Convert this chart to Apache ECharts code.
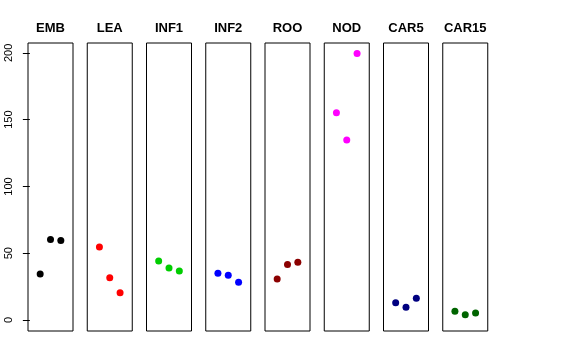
<!DOCTYPE html>
<html>
<head>
<meta charset="utf-8">
<script src="https://cdn.jsdelivr.net/npm/echarts@6/dist/echarts.min.js"></script>
<style>html,body{margin:0;padding:0;background:#fff}#c{width:576px;height:360px}</style>
</head>
<body>
<div id="c"></div>
<script>
const categories = ["EMB","LEA","INF1","INF2","ROO","NOD","CAR5","CAR15"];
const colors = ["#000000","#FF0000","#00CD00","#0000FF","#8B0000","#FF00FF","#000080","#006400"];
const replicate = [1,2,3];
const valEMB = [34.4, 60.3, 59.6];
const valLEA = [54.7, 31.7, 20.5];
const valINF1 = [44.2, 39.0, 36.7];
const valINF2 = [35.0, 33.5, 28.3];
const valROO = [30.7, 41.5, 43.3];
const valNOD = [155.2, 134.7, 199.6];
const valCAR5 = [13.0, 9.5, 16.3];
const valCAR15 = [6.5, 4.0, 5.2];
const yTicks = [0, 50, 100, 150, 200];

const allVals = [valEMB, valLEA, valINF1, valINF2, valROO, valNOD, valCAR5, valCAR15];

const chart = echarts.init(document.getElementById('c'), null, {renderer: 'canvas'});
const grids = [], xAxes = [], yAxes = [], series = [], titles = [];
const L0 = 28, STEP = 59.25, W = 45, TOP = 43, H = 288;
categories.forEach((name, i) => {
  const left = L0 + i * STEP;
  grids.push({left: left, top: TOP, width: W, height: H, show: true, borderColor: '#000', borderWidth: 1, backgroundColor: 'transparent'});
  xAxes.push({type: 'value', gridIndex: i, min: -0.18, max: 4.18, show: false});
  yAxes.push({
    type: 'value', gridIndex: i, min: -8.2, max: 207.4, show: i === 0,
    splitLine: {show: false},
    axisLine: {show: false},
    axisTick: {show: true, length: 7, inside: false, lineStyle: {color: '#000'}, customValues: yTicks},
    axisLabel: {show: true, rotate: 90, margin: 14, fontSize: 11, color: '#000', fontFamily: 'Liberation Sans, Arial, sans-serif', customValues: yTicks}
  });
  series.push({
    type: 'scatter', xAxisIndex: i, yAxisIndex: i, symbol: 'circle', symbolSize: 7,
    itemStyle: {color: colors[i], opacity: 1},
    data: replicate.map((r, k) => [r, allVals[i][k]]),
    animation: false
  });
  titles.push({
    text: name, left: left + W / 2, top: 22, textAlign: 'center', padding: 0,
    textStyle: {fontSize: 13, fontWeight: 'bold', color: '#000', fontFamily: 'Liberation Sans, Arial, sans-serif'}
  });
});
chart.setOption({animation: false, title: titles, grid: grids, xAxis: xAxes, yAxis: yAxes, series: series});
</script>
</body>
</html>
